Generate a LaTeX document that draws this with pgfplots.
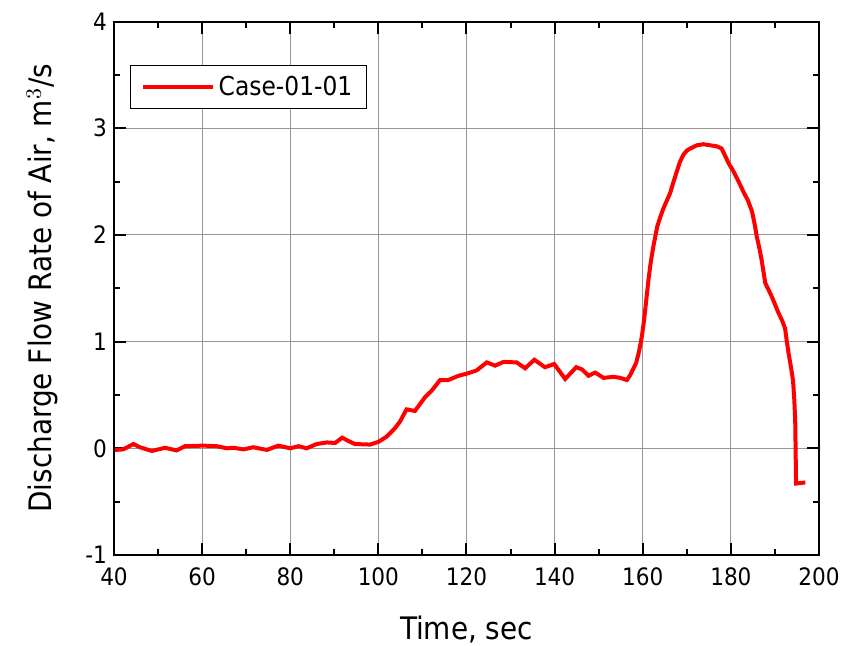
\documentclass[border=0pt]{standalone}
\usepackage{pgfplots}
\pgfplotsset{compat=1.18}
\usepackage{fontspec}
\setmainfont{DejaVu Sans Condensed}

\definecolor{gridgray}{RGB}{150,150,150}

\begin{document}
\begin{tikzpicture}
\useasboundingbox (-57pt,-45pt) rectangle (367pt,277.5pt);
\begin{axis}[
    scale only axis,
    width=352.5pt, height=266.75pt,
    xmin=40, xmax=200, ymin=-1, ymax=4,
    xtick={40,60,...,200}, ytick={-1,0,...,4},
    minor x tick num=1, minor y tick num=1,
    tick align=inside,
    major tick length=6pt, minor tick length=3pt,
    every tick/.style={black, line width=1pt},
    axis line style={line width=1pt},
    grid=major,
    major grid style={gridgray, line width=0.5pt},
    tick label style={font=\fontsize{12}{14}\selectfont},
    xticklabel style={yshift=-3pt},
    label style={font=\fontsize{15.5}{18}\selectfont},
    /pgf/number format/assume math mode=true,
    xlabel={Time, sec},
    ylabel={Discharge Flow Rate of Air, m$^3$/s},
    xlabel style={yshift=-8pt},
    ylabel style={yshift=7pt},
    legend style={at={(0.023,0.918)}, anchor=north west, draw=black, line width=0.5pt,
        font=\fontsize{13}{15}\selectfont, inner xsep=5pt, inner ysep=3pt},
    legend cell align=left,
    legend image code/.code={\draw[#1] (0pt,0pt) -- (35pt,0pt);},
]
\addplot[red, line width=2pt] coordinates {
(40.2,-0.016) (42.1,-0.01) (44.4,0.04) (45.9,0.01) (48.6,-0.025) (51.6,0.005)
(54.2,-0.02) (56.1,0.02) (60.3,0.025) (63.3,0.02) (65.6,0.0) (67.1,0.005)
(69.4,-0.01) (71.6,0.01) (74.7,-0.015) (77.3,0.025) (80.0,0.0) (81.9,0.02)
(83.7,0.0) (86.0,0.04) (88.3,0.055) (90.2,0.05) (91.8,0.1) (93.1,0.07)
(94.7,0.04) (98.1,0.035) (100.0,0.06) (101.9,0.11) (103.8,0.19) (104.9,0.25)
(106.4,0.365) (108.3,0.35) (110.6,0.48) (112.1,0.54) (114.0,0.64) (115.9,0.64)
(118.2,0.68) (120.1,0.70) (122.3,0.73) (124.6,0.805) (126.5,0.775) (128.4,0.81)
(131.4,0.805) (133.3,0.75) (135.4,0.83) (137.8,0.76) (139.9,0.79) (142.4,0.65)
(144.9,0.76) (146.2,0.74) (147.7,0.68) (149.2,0.71) (151.1,0.66) (153.4,0.67)
(154.9,0.66) (156.4,0.64) (157.2,0.69) (157.9,0.75) (158.5,0.80) (159.0,0.88)
(159.5,0.98) (159.8,1.05) (160.3,1.20) (160.8,1.39) (161.3,1.58) (161.8,1.74)
(162.4,1.89) (163.3,2.08) (164.0,2.17) (164.7,2.25) (166.2,2.39) (167.0,2.50)
(167.7,2.59) (168.4,2.68) (169.2,2.75) (170.0,2.79) (170.8,2.81) (172.3,2.84)
(173.8,2.85) (175.3,2.84) (176.8,2.83) (177.9,2.81) (178.6,2.75) (179.5,2.67)
(180.4,2.61) (181.4,2.53) (182.1,2.47) (182.9,2.40) (183.9,2.32) (184.8,2.22)
(185.4,2.10) (185.9,1.98) (186.5,1.87) (187.0,1.76) (187.5,1.63) (187.8,1.55)
(188.5,1.49) (189.3,1.42) (190.1,1.34) (190.8,1.27) (191.6,1.20) (192.3,1.125)
(192.7,1.00) (193.1,0.89) (193.6,0.77) (194.1,0.64) (194.4,0.45) (194.6,0.265)
(194.8,-0.33) (196.9,-0.32)
};
\legend{Case-01-01}
\end{axis}
\end{tikzpicture}
\end{document}
